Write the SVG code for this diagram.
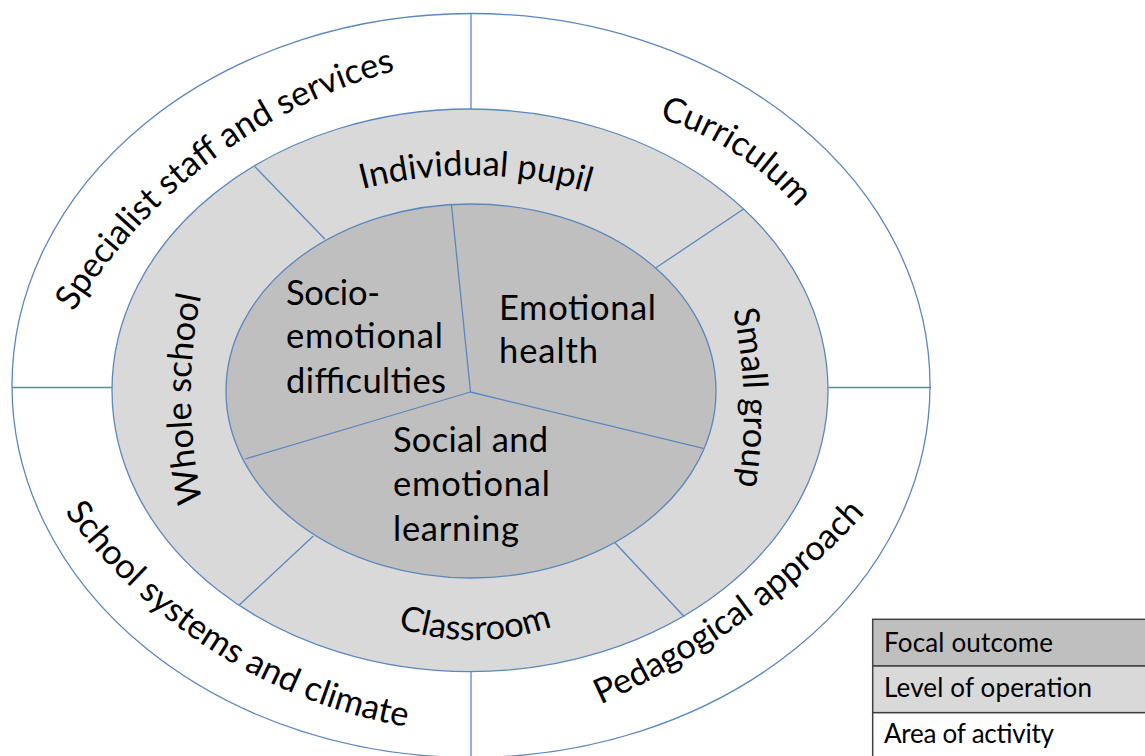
<svg xmlns="http://www.w3.org/2000/svg" width="1145" height="756" viewBox="0 0 1145 756">
<style>
.ring{stroke:#5b87bd;stroke-width:1.3}
.div{stroke:#5b87bd;stroke-width:1.3;fill:none}
.t{font-family:Lato,"Liberation Sans",sans-serif;font-size:34.5px;fill:#000}
.lg{font-family:Lato,"Liberation Sans",sans-serif;font-size:26px;fill:#000}
.cell{stroke:#404040;stroke-width:1.5}
</style>
<defs>
<path id="pSpec" d="M35.8 385.1 A550.3 550.3 0 0 1 475.9 54.7"/>
<path id="pCurr" d="M588.8 106.2 A296.1 296.1 0 0 1 837.4 267"/>
<path id="pPeda" d="M542.5 727.9 A808.7 808.7 0 0 0 886.3 489"/>
<path id="pScho" d="M24.5 447 A540.5 540.5 0 0 0 481.9 735"/>
<path id="pIndi" d="M295.3 212.7 A426.3 426.3 0 0 1 655.5 217.7"/>
<path id="pSmal" d="M691.6 191.6 A491.3 491.3 0 0 1 703.6 606.7"/>
<path id="pClas" d="M376.6 619.1 A232.7 232.7 0 0 0 573.3 617.7"/>
<path id="pWhol" d="M238.6 606.2 A491.3 491.3 0 0 1 235.3 190.9"/>
</defs>
<rect width="1145" height="756" fill="#fff"/>
<g id="rings">
<ellipse class="ring" cx="471" cy="385.5" rx="459" ry="372" fill="#fff"/>
<ellipse class="ring" cx="470" cy="390.3" rx="358" ry="281.3" fill="#d9d9d9"/>
<ellipse class="ring" cx="471" cy="391" rx="245" ry="187" fill="#bfbfbf"/>
</g>
<g id="connectors">
<line class="div" x1="471" y1="13" x2="471" y2="109"/>
<line class="div" x1="471" y1="671.6" x2="471" y2="758"/>
<line class="div" x1="12" y1="387.5" x2="112" y2="387.5"/>
<line class="div" x1="828" y1="387.5" x2="931" y2="387.5"/>
<line class="div" x1="255" y1="166.7" x2="325" y2="239.3"/>
<line class="div" x1="743.3" y1="209.3" x2="656" y2="267.7"/>
<line class="div" x1="313.3" y1="536" x2="239.3" y2="605"/>
<line class="div" x1="615" y1="542.7" x2="684.3" y2="616.7"/>
<line class="div" x1="470.5" y1="392" x2="451.5" y2="205"/>
<line class="div" x1="470.5" y1="392" x2="245" y2="459"/>
<line class="div" x1="470.5" y1="392" x2="703.3" y2="448.3"/>
</g>
<g id="area-specialist"><text class="t"><textPath href="#pSpec" startOffset="50%" text-anchor="middle">Specialist staff and services</textPath></text></g>
<g id="area-curriculum"><text class="t"><textPath href="#pCurr" startOffset="50%" text-anchor="middle">Curriculum</textPath></text></g>
<g id="area-pedagogical"><text class="t"><textPath href="#pPeda" startOffset="227" text-anchor="middle">Pedagogical approach</textPath></text></g>
<g id="area-school"><text class="t"><textPath href="#pScho" startOffset="50%" text-anchor="middle">School systems and climate</textPath></text></g>
<g id="level-individual"><text class="t"><textPath href="#pIndi" startOffset="50%" text-anchor="middle">Individual pupil</textPath></text></g>
<g id="level-small"><text class="t"><textPath href="#pSmal" startOffset="50%" text-anchor="middle">Small group</textPath></text></g>
<g id="level-classroom"><text class="t"><textPath href="#pClas" startOffset="50%" text-anchor="middle">Classroom</textPath></text></g>
<g id="level-whole"><text class="t"><textPath href="#pWhol" startOffset="50%" text-anchor="middle">Whole school</textPath></text></g>
<g id="focal-difficulties"><text class="t">
<tspan x="286" y="305" textLength="94">Socio-</tspan>
<tspan x="286" y="348" textLength="157">emotional</tspan>
<tspan x="286" y="393" textLength="160">difficulties</tspan></text></g>
<g id="focal-health"><text class="t">
<tspan x="499" y="320" textLength="157">Emotional</tspan>
<tspan x="499" y="363" textLength="99">health</tspan></text></g>
<g id="focal-learning"><text class="t">
<tspan x="393" y="452" textLength="155">Social and</tspan>
<tspan x="393" y="496" textLength="157">emotional</tspan>
<tspan x="393" y="541" textLength="126">learning</tspan></text></g>
<g id="legend">
<rect class="cell" x="872.7" y="619.3" width="280" height="46.7" fill="#bfbfbf"/>
<rect class="cell" x="872.7" y="666" width="280" height="46.7" fill="#d9d9d9"/>
<rect class="cell" x="872.7" y="712.7" width="280" height="50" fill="#fff"/>
<text class="lg" x="884" y="651.5" textLength="169">Focal outcome</text>
<text class="lg" x="884" y="697" textLength="208">Level of operation</text>
<text class="lg" x="884" y="742.5" textLength="170">Area of activity</text>
</g>
</svg>
